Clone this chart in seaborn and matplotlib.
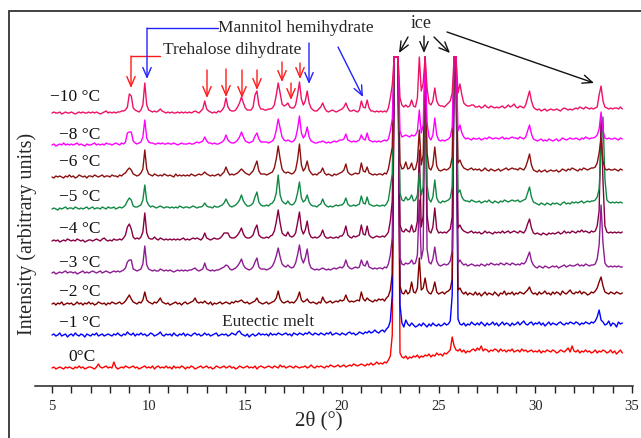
import numpy as np
import pandas as pd
import matplotlib
matplotlib.use("Agg")
import matplotlib.pyplot as plt
import seaborn as sns
from matplotlib.patches import Rectangle

# ---------------- data ----------------
theta = np.round(np.arange(5.0, 34.55, 0.1), 1)   # 2theta grid, 296 points

labels = ["0°C", "−1 °C", "−2 °C", "−3 °C", "−4 °C", "−5 °C", "−6 °C", "−8 °C", "−10 °C"]
offsets = [18, 51, 82, 113, 145, 177, 209, 241, 273]          # stacking offsets
colors = ["#FF0000", "#0000FF", "#800000", "#8E1B94", "#880044",
          "#118844", "#8B1010", "#FF00FF", "#EE1166"]

t_0 = [0,1,-1,0,1,0,-1,1,0,1, 0,-1,1,0,2,0,1,-1,0,1, 1,0,-1,1,4,1,0,1,2,0, 1,0,6,1,-1,0,1,0,2,1,
       0,1,2,0,1,-1,0,1,2,0, 1,0,2,-1,1,2,0,1,0,2, 0,1,-1,2,0,1,0,2,1,-1, 1,0,2,1,-1,0,1,2,0,1,
       2,0,1,-1,0,2,1,0,1,2, 0,1,2,0,1,-1,0,2,1,0, 1,2,0,1,0,2,-1,1,2,1, 0,1,2,1,0,2,1,0,3,1,
       2,0,1,2,1,0,2,1,0,1, 1,2,0,1,3,1,0,2,1,2, 1,0,2,1,3,2,1,2,3,1, 2,3,1,2,3,2,4,3,2,3,
       4,3,2,4,3,5,3,4,6,4, 5,4,6,5,8,12,33,311,311,311, 15,11,10,12,9,11,10,12,11,13,
       10,12,11,13,12,14,11,13,12,15, 13,14,12,15,14,16,18,31,22,18, 17,19,16,18,15,17,16,18,19,17,
       20,18,22,17,19,18,16,18,17,19, 18,16,19,17,18,16,18,17,19,16, 17,18,16,19,17,18,16,17,18,16,
       17,16,18,15,17,16,18,17,16,18, 17,15,16,18,17,16,18,20,16,22, 17,16,18,15,17,16,18,16,17,15,
       16,18,15,17,16,18,17,15,16,18, 15,17,14,16,18,15]

t_m1 = [0,1,-1,0,2,-1,0,1,-2,0, 1,-1,2,0,-1,1,0,-2,1,0, -1,1,0,2,-1,0,1,-1,0,1, 0,-1,1,0,2,0,-1,1,0,3,
        1,0,2,-1,1,0,2,0,1,-1, 0,2,1,-1,0,1,3,0,-1,1, 0,1,-1,2,0,-1,1,0,2,-1, 1,0,-1,1,2,0,1,-1,0,2,
        0,1,-1,0,1,2,-1,0,1,0, 1,-1,0,2,1,0,3,4,1,0, -1,1,-2,0,1,-1,0,2,0,1, 0,1,-1,2,0,1,0,2,1,0,
        1,2,0,1,-1,2,1,0,2,1, 0,2,1,3,1,0,2,1,0,2, 1,0,2,1,3,0,1,2,1,0, 2,1,0,2,3,1,2,0,1,3,
        2,1,3,2,4,2,3,5,3,2, 4,5,3,6,8,14,40,278,278,278, 30,12,8,15,11,9,12,10,8,9,
        11,9,12,10,8,11,9,12,10,9, 11,9,10,12,10,11,14,40,278,278, 16,11,10,12,9,11,10,13,11,10,
        12,10,13,11,9,12,10,11,13,10, 12,9,11,13,10,12,11,9,12,10, 11,13,10,12,14,11,10,12,13,10,
        12,11,13,10,12,9,11,13,10,12, 11,10,12,13,11,10,12,11,13,12, 11,13,12,10,12,11,13,12,11,13,
        12,14,18,25,15,13,10,11,14,9, 12,11,8,13,11,12]

t_m2 = [0,1,-1,1,0,2,-1,0,1,0, 1,-1,0,2,0,1,-1,1,0,2, 0,1,-1,0,2,1,0,1,-1,1, 0,2,1,0,1,2,0,1,3,6,
        9,5,2,1,0,2,1,4,12,4, 2,1,0,2,1,3,6,2,1,0, 1,-1,0,1,2,0,1,-1,1,2, 0,1,2,3,6,2,1,2,1,3,
        1,0,2,-1,1,0,1,2,0,1, 2,1,0,2,1,3,2,3,4,2, 1,2,0,1,2,3,6,2,1,0, 1,2,0,1,2,3,6,13,5,2,
        1,2,3,1,2,1,3,6,12,4, 2,3,5,2,1,2,1,0,2,1, 7,3,1,2,3,1,2,3,2,4, 3,4,9,4,2,3,2,3,4,3,
        12,5,3,6,4,3,2,4,3,5, 4,5,3,6,8,14,30,247,247,247, 18,11,10,14,10,12,22,12,11,16,
        46,14,16,26,14,11,10,14,22,12, 10,11,12,10,12,13,15,25,247,247, 14,16,12,10,12,9,11,10,9,12,
        9,11,8,10,12,9,11,10,9,12, 10,8,11,10,13,9,11,10,12,9, 11,10,12,11,10,12,14,17,12,10,
        11,9,12,10,11,13,10,11,9,12, 10,12,11,9,13,11,10,12,14,11, 10,12,11,13,10,12,11,9,10,12,
        11,13,16,22,27,18,12,11,10,12, 11,10,12,11,10,11]

t_m3 = [0,1,-1,0,1,0,1,2,0,1, 1,0,1,-1,0,1,2,0,1,0, 1,2,1,0,1,2,0,1,2,1, 0,1,2,1,2,1,2,3,5,11,
        13,13,4,3,2,3,4,9,27,8, 4,3,2,3,2,2,4,3,2,3, 2,3,2,1,2,3,2,3,2,3, 2,3,3,4,5,3,2,3,4,10,
        4,3,2,3,2,3,3,4,5,6, 8,7,4,3,4,5,7,10,14,8, 5,4,3,4,6,11,15,6,4,4, 4,3,4,5,7,11,17,25,16,9,
        7,6,8,6,5,6,10,18,28,15, 10,15,24,10,5,4,3,4,3,4, 5,4,3,4,3,4,5,4,5,6, 5,7,13,7,5,4,5,6,5,6,
        13,8,7,12,6,5,4,5,4,5, 5,4,6,5,9,18,35,216,216,216, 15,9,8,10,9,10,13,9,10,18,
        73,14,24,216,24,11,9,14,26,12, 8,7,8,9,8,9,12,22,216,216, 10,13,10,8,9,7,8,9,8,7,
        8,7,9,8,7,9,8,10,9,8, 9,8,10,9,8,10,9,8,10,9, 8,9,8,10,9,11,16,21,12,8,
        6,5,7,6,5,7,6,5,6,7, 6,7,5,6,7,8,6,7,8,7, 7,8,9,7,8,7,9,8,7,8,
        8,9,14,28,68,30,10,7,6,7, 6,7,6,7,6,6]

t_m4 = [0,1,0,1,-1,0,1,0,2,1, 0,1,0,2,1,0,1,-1,0,1, 1,0,1,2,1,0,2,3,1,0, 1,0,2,1,1,2,1,3,6,14,
        17,12,4,2,3,2,4,9,28,8, 3,2,2,4,2,1,3,2,1,2, 1,2,1,2,1,2,1,2,3,1, 2,1,2,3,2,3,2,1,3,8,
        3,2,1,2,3,2,2,3,5,8, 8,8,4,3,3,4,6,9,13,7, 4,3,3,4,6,12,16,6,4,3, 3,4,3,5,6,10,19,31,18,8,
        6,5,9,5,4,5,8,18,29,12, 7,11,20,8,4,3,4,3,4,6, 11,5,3,3,4,3,3,4,3,5, 5,8,15,6,4,3,5,4,5,6,
        16,7,6,15,6,4,3,4,5,4, 4,5,4,6,9,20,40,184,184,184, 16,10,9,12,10,9,16,9,10,20,
        91,14,25,184,26,10,8,14,33,12, 8,9,8,9,8,10,12,24,184,184, 13,16,12,10,9,8,9,10,8,9,
        8,9,7,8,10,8,9,8,7,9, 8,9,8,10,8,9,10,8,9,10, 9,8,10,9,8,11,17,22,13,8,
        7,8,7,6,8,7,6,8,7,8, 7,8,9,7,8,10,8,9,8,10, 9,8,10,9,11,9,10,9,8,10,
        9,10,15,30,123,60,15,9,8,9, 8,9,8,9,8,9]

t_m5 = [0,1,0,-1,1,0,1,2,0,1, 1,0,2,1,0,1,0,1,2,0, 1,2,0,1,1,0,2,1,0,2, 1,1,2,0,1,2,1,2,4,8,
        11,9,3,2,2,3,4,9,24,8, 4,2,3,2,1,2,3,2,1,2, 2,1,2,1,2,1,3,2,1,2, 2,1,2,3,2,1,2,2,3,6,
        3,2,2,1,3,2,2,3,4,6, 10,6,3,2,3,4,6,9,14,8, 5,3,3,4,6,12,17,7,4,3, 3,4,3,5,6,9,16,34,14,8,
        6,5,8,5,4,5,8,16,27,11, 7,9,14,7,4,3,3,2,4,5, 10,5,3,2,3,2,3,4,3,4, 4,6,11,5,3,3,4,3,4,5,
        13,6,5,12,5,4,3,3,4,3, 3,4,3,5,9,22,35,152,152,152, 16,9,8,12,9,10,14,8,9,14,
        36,14,22,152,24,10,7,12,29,11, 7,6,8,7,8,9,11,22,152,152, 16,19,12,9,8,8,7,9,8,7,
        7,8,6,7,8,7,9,7,6,8, 7,6,8,7,9,8,7,8,9,8, 8,9,7,8,9,10,16,22,12,7,
        6,5,4,6,5,4,6,5,4,6, 5,6,5,4,6,7,5,6,5,7, 6,7,6,7,8,6,7,8,7,8,
        8,9,12,20,60,92,30,9,7,6, 7,6,7,6,7,6]

t_m6 = [0,-1,1,0,1,0,-1,1,0,2, 0,1,-1,0,2,1,0,1,-1,1, 1,0,2,1,0,1,2,0,1,1, 0,2,1,1,0,2,1,3,4,7,
        9,7,3,2,1,2,4,8,27,8, 3,2,1,3,2,1,2,1,3,2, 1,2,1,0,3,1,2,1,2,1, 2,1,3,2,1,2,3,2,3,5,
        3,2,1,2,1,2,3,1,3,5, 10,5,2,3,2,3,4,6,8,6, 4,3,2,4,6,11,16,6,3,3, 3,2,3,4,5,9,18,31,18,8,
        5,4,5,4,3,4,7,17,33,12, 6,9,16,7,4,2,3,2,4,5, 9,4,2,3,2,1,3,2,3,4, 5,7,13,5,3,2,3,4,3,4,
        14,6,5,10,4,3,2,3,2,3, 3,2,4,3,8,19,30,120,120,120, 14,8,9,15,8,9,14,7,8,16,
        47,12,22,120,24,9,7,12,30,11, 7,6,7,8,7,8,10,20,120,120, 14,17,12,9,8,7,8,9,7,8,
        7,8,6,7,9,7,6,8,7,6, 7,8,6,7,8,9,7,8,9,8, 8,7,9,8,7,10,16,23,12,7,
        6,5,7,5,6,7,5,6,7,6, 6,7,5,6,8,7,6,8,7,9, 8,7,6,8,7,9,8,7,8,9,
        9,10,14,24,39,16,8,7,8,7, 7,8,7,6,8,7]

t_m8 = [0,1,-1,0,1,0,2,0,1,0, 1,0,1,2,0,1,0,-1,1,0, 0,1,2,0,1,0,1,0,2,1, 1,0,1,2,1,0,2,1,3,12,
        13,13,4,2,1,2,3,8,25,7, 3,2,2,1,1,2,1,2,1,1, 2,1,1,2,1,0,1,2,1,1, 1,2,1,1,2,3,2,3,4,8,
        4,2,2,1,2,1,1,2,3,5, 10,5,3,2,2,3,5,8,13,8, 4,3,2,3,4,9,12,6,3,3, 3,3,2,3,4,7,15,26,17,8,
        5,4,5,4,3,4,7,16,29,12, 7,10,18,8,4,3,2,2,3,3, 4,3,2,3,2,3,4,3,4,5, 5,6,11,5,4,3,4,3,4,5,
        10,6,5,12,5,4,3,4,3,4, 3,4,5,4,6,14,26,88,88,88, 14,8,9,10,9,8,10,9,10,14,
        35,12,20,88,22,8,5,10,27,10, 5,4,5,4,5,6,8,18,88,88, 14,20,12,8,6,7,6,5,7,6,
        6,7,5,6,7,6,8,7,6,7, 7,6,7,8,6,7,6,7,8,7, 7,6,8,7,6,8,14,20,11,6,
        5,4,5,6,4,5,4,6,5,4, 5,6,4,5,7,6,5,6,7,6, 6,7,6,5,7,6,8,7,6,7,
        7,8,10,16,33,14,7,6,7,6, 6,7,6,5,7,6]

t_m10 = [0,1,0,0,1,-1,0,1,0,0, 1,0,-1,0,1,0,1,0,0,1, 0,1,0,1,0,-1,0,1,2,0, 1,0,1,0,1,1,2,2,3,6,
         19,17,5,3,2,1,3,8,30,8, 3,2,1,2,1,2,4,2,1,0, 1,0,1,0,0,1,0,1,0,1, 0,1,0,1,2,1,0,2,4,12,
         4,2,1,0,1,0,2,1,3,6, 15,6,3,2,2,3,6,10,16,10, 5,3,3,3,6,18,22,8,4,4, 3,3,4,4,5,8,18,30,20,9,
         7,8,10,6,5,5,8,18,31,14, 8,12,22,10,5,3,2,2,4,6, 10,5,2,1,2,3,2,1,2,3, 4,6,10,5,2,2,3,2,1,3,
         12,6,5,13,5,2,2,1,2,1, 2,1,2,1,5,15,28,56,56,56, 15,8,6,8,6,7,13,7,6,15,
         56,22,30,56,25,10,8,12,25,12, 8,7,7,6,8,10,12,20,56,56, 20,29,18,10,8,7,7,8,8,6,
         6,7,5,6,8,6,5,7,6,5, 6,5,6,7,5,6,8,6,7,9, 6,5,7,6,5,8,15,22,12,6,
         4,3,4,2,3,4,2,3,4,3, 3,4,3,2,4,5,4,3,4,3, 4,5,4,6,5,4,6,5,4,5,
         4,5,6,18,27,12,6,5,4,5, 4,5,5,4,6,4]

traces = [t_0, t_m1, t_m2, t_m3, t_m4, t_m5, t_m6, t_m8, t_m10]

# ---------------- layout helpers (pixel -> data) ----------------
def tx(px):
    return 5 + (px - 52) / 19.333

def ty(py):
    return 386 - py

label_px = [(96, 357), (100, 323), (100, 292), (100, 263), (100, 229),
            (100, 197), (100, 162), (100, 135), (100, 97)]

# ---------------- build frame ----------------
frames = []
for lab, off, vals in zip(labels, offsets, traces):
    assert len(vals) == len(theta), (lab, len(vals))
    frames.append(pd.DataFrame({"theta": theta,
                                "intensity": off + np.asarray(vals, float),
                                "trace": lab}))
df = pd.concat(frames, ignore_index=True)

sns.set_style("white")
plt.rcParams["font.family"] = ["Liberation Serif", "DejaVu Serif"]
plt.rcParams["axes.unicode_minus"] = True

fig = plt.figure(figsize=(6.41, 4.38), dpi=100)
ax = fig.add_axes([35 / 641, 52 / 438, 598 / 641, 375 / 438])

sns.lineplot(data=df, x="theta", y="intensity", hue="trace", hue_order=labels,
             palette=dict(zip(labels, colors)), estimator=None, sort=False,
             legend=False, linewidth=1.0, ax=ax)

ax.set_xlim(tx(35), tx(633))
ax.set_ylim(0, 375)
ax.set_xlabel("")
ax.set_ylabel("")
ax.set_yticks([])
ax.set_xticks(np.arange(5, 36, 5))
ax.set_xticks(np.arange(5, 36, 1), minor=True)
ax.tick_params(axis="x", which="both", direction="out", length=5, width=1,
               color="#222222", labelsize=10.5, pad=5, bottom=True)
for s in ["top", "left", "right"]:
    ax.spines[s].set_visible(False)
ax.spines["bottom"].set_linewidth(1.1)
ax.spines["bottom"].set_color("#222222")
ax.patch.set_alpha(0)

# trace labels
for lab, (px, py) in zip(labels, label_px):
    ax.text(tx(px), ty(py), lab, ha="right", va="center", fontsize=12.5,
            color="#111111", clip_on=False)

# annotations text
ax.text(tx(296), ty(28), "Mannitol hemihydrate", ha="center", va="center",
        fontsize=12.5, clip_on=False)
ax.text(tx(232), ty(50), "Trehalose dihydrate", ha="center", va="center",
        fontsize=12.5, clip_on=False)
ax.text(tx(421), ty(24), "ice", ha="center", va="center", fontsize=13,
        clip_on=False)
ax.text(tx(268), ty(322), "Eutectic melt", ha="center", va="center",
        fontsize=12.5, clip_on=False)

def arrow(p0, p1, color):
    ax.annotate("", xy=(tx(p1[0]), ty(p1[1])), xytext=(tx(p0[0]), ty(p0[1])),
                arrowprops=dict(arrowstyle="->,head_length=0.7,head_width=0.3",
                                color=color, lw=1.0, shrinkA=0, shrinkB=0),
                annotation_clip=False)

red = "#FF1A1A"
blue = "#2222FF"
# trehalose elbow arrow
ax.plot([tx(160), tx(131)], [ty(56), ty(56)], color=red, lw=1.0, clip_on=False)
arrow((131, 56), (131, 88), red)
for x, y0, y1 in [(207, 70, 98), (226, 69, 97), (242, 70, 98), (257, 70, 90),
                  (282, 62, 82), (291, 83, 100), (300, 63, 79)]:
    arrow((x, y0), (x, y1), red)
# mannitol arrows
ax.plot([tx(218), tx(147)], [ty(28), ty(28)], color=blue, lw=1.0, clip_on=False)
arrow((147, 28), (147, 79), blue)
arrow((309, 43), (309, 84), blue)
arrow((338, 47), (363, 97), blue)
# ice arrows
for p0, p1 in [((408, 37), (399, 53)), ((424, 36), (424, 53)),
               ((434, 37), (450, 53)), ((447, 32), (594, 83))]:
    arrow(p0, p1, "#111111")

# axis titles
fig.text(27 / 641, 1 - 234 / 438, "Intensity (arbitrary units)", rotation=90,
         ha="center", va="center", fontsize=14.5)
fig.text(319 / 641, 1 - 421 / 438, "2θ (°)", ha="center", va="center",
         fontsize=15)

# outer frame
fig.add_artist(Rectangle((9 / 641, -0.05), 1.0, 1 - 11 / 438 + 0.05,
                         transform=fig.transFigure, fill=False, lw=1.3,
                         ec="#333333"))

fig.savefig("out.png", dpi=100)
